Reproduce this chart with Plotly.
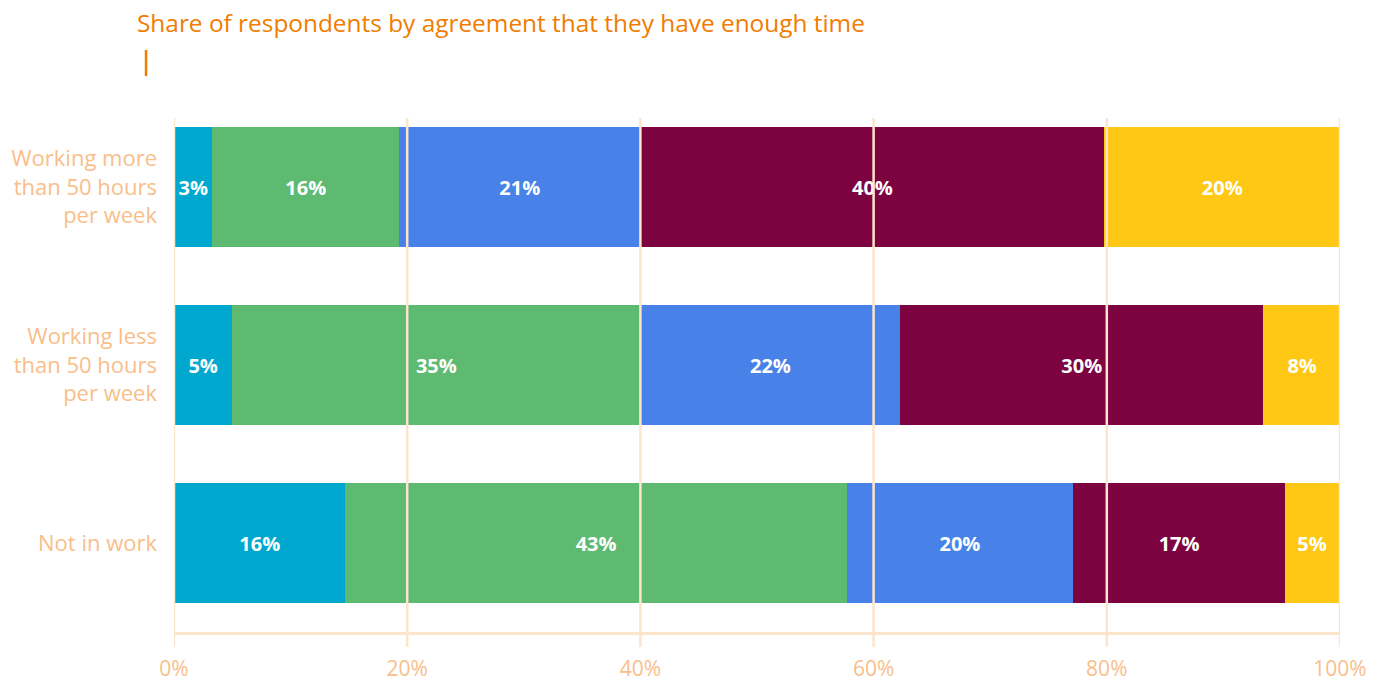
import plotly.graph_objects as go

categories = ["Working more than 50 hours per week",
              "Working less than 50 hours per week",
              "Not in work"]
category_labels = ["Working more<br>than 50 hours<br>per week",
                   "Working less<br>than 50 hours<br>per week",
                   "Not in work"]

series_names = ["Strongly agree", "Agree", "Neither agree nor disagree", "Disagree", "Strongly disagree"]
series_colors = ["#00A8CF", "#5EB971", "#4882E8", "#7C0340", "#FEC814"]

values_strongly_agree = [3.3, 5.0, 14.7]
values_agree = [16.0, 35.0, 43.0]
values_neither = [20.7, 22.3, 19.4]
values_disagree = [39.8, 31.1, 18.2]
values_strongly_disagree = [20.2, 6.7, 4.6]

labels_strongly_agree = ["3%", "5%", "16%"]
labels_agree = ["16%", "35%", "43%"]
labels_neither = ["21%", "22%", "20%"]
labels_disagree = ["40%", "30%", "17%"]
labels_strongly_disagree = ["20%", "8%", "5%"]

tick_values = [0, 20, 40, 60, 80, 100]
tick_labels = ["0%", "20%", "40%", "60%", "80%", "100%"]

title_text = "Share of respondents by agreement that they have enough time"

all_values = [values_strongly_agree, values_agree, values_neither, values_disagree, values_strongly_disagree]
all_labels = [labels_strongly_agree, labels_agree, labels_neither, labels_disagree, labels_strongly_disagree]

GRID = "#FDE5CC"
LABEL = "#F9BE8A"
TITLE = "#F07C00"
FONT = "Open Sans"

fig = go.Figure()
for name, color, vals, labs in zip(series_names, series_colors, all_values, all_labels):
    fig.add_trace(go.Bar(
        y=categories, x=vals, name=name, orientation="h",
        marker=dict(color=color, line=dict(width=0)),
        text=labs, textposition="inside", insidetextanchor="middle",
        textfont=dict(color="white", size=20, family=FONT, weight="bold"),
        constraintext="none", hoverinfo="skip",
    ))

shapes = []
for tv in tick_values:
    shapes.append(dict(type="line", xref="x", yref="paper", x0=tv, x1=tv,
                       y0=-0.028, y1=0.9625, layer="above",
                       line=dict(color=GRID, width=2.5)))
# decorative title marker
shapes.append(dict(type="line", xref="paper", yref="paper",
                   x0=-0.024, x1=-0.024, y0=1.041, y1=1.09,
                   line=dict(color=TITLE, width=2.5)))

fig.update_layout(
    barmode="stack",
    bargap=0.33,
    width=1379, height=682,
    margin=dict(l=174, r=39, t=98, b=50, autoexpand=False),
    paper_bgcolor="white", plot_bgcolor="white",
    showlegend=False,
    font=dict(family=FONT, color=LABEL, size=20),
    title=dict(text=title_text, x=137/1379, xanchor="left", xref="container",
               y=1 - 23/682, yanchor="middle", yref="container",
               font=dict(color=TITLE, size=24.4, family=FONT)),
    xaxis=dict(range=[0, 100], tickvals=tick_values, ticktext=tick_labels,
               showgrid=False, zeroline=False, showline=True, linecolor=GRID,
               linewidth=3, ticks="", ticklabelstandoff=16, automargin=False,
               tickfont=dict(color=LABEL, size=21, family=FONT), fixedrange=True),
    yaxis=dict(categoryorder="array", categoryarray=categories, autorange="reversed",
               tickvals=categories, ticktext=category_labels,
               showgrid=False, zeroline=False, showline=False, ticks="",
               ticklabelstandoff=16, automargin=False,
               tickfont=dict(color=LABEL, size=22, family=FONT), fixedrange=True),
    shapes=shapes,
)

fig.write_html("out.html", config={"displayModeBar": False},
               post_script="document.body.style.margin='0';")
